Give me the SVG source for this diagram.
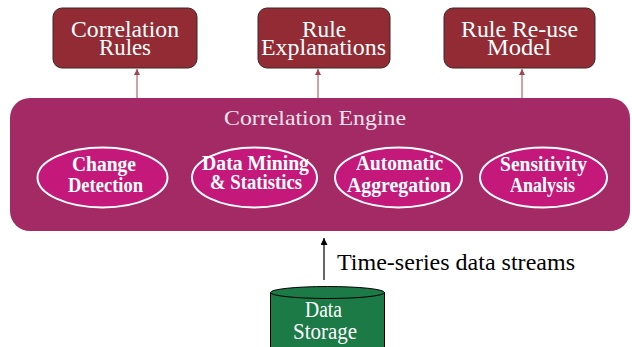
<svg xmlns="http://www.w3.org/2000/svg" width="632" height="347" viewBox="0 0 632 347">
  <defs>
    <marker id="tipRed" viewBox="0 0 10 10" refX="10" refY="5" markerWidth="6" markerHeight="7" orient="auto" markerUnits="userSpaceOnUse">
      <path d="M0,0 L10,5 L0,10 z" fill="#A4444E"/>
    </marker>
    <marker id="tipBlack" viewBox="0 0 10 10" refX="10" refY="5" markerWidth="7" markerHeight="7" orient="auto" markerUnits="userSpaceOnUse">
      <path d="M0,0 L10,5 L0,10 z" fill="#000"/>
    </marker>
  </defs>
  <style>
    text { font-family: "Liberation Serif", "Times New Roman", serif; }
    .out { fill: #922B33; stroke: #3a2a2a; stroke-width: 1; }
    .outTxt { font-size: 23px; fill: #ffffff; }
    .engine { fill: #A32A64; }
    .engTxt { font-size: 22px; fill: #f4e4ec; }
    .mod { fill: #C4197A; stroke: #ffffff; stroke-width: 2; }
    .modTxt { font-size: 20px; font-weight: bold; fill: #ffffff; }
    .link { stroke: #A4444E; stroke-width: 1; fill: none; }
    .feed { stroke: #000; stroke-width: 1.2; fill: none; }
    .store { fill: #1B7A46; stroke: #000; stroke-width: 1; }
    .storeTxt { font-size: 23px; fill: #ffffff; }
    .lbl { font-size: 23px; fill: #000; }
  </style>

  <rect width="632" height="347" fill="#ffffff"/>

  <!-- output boxes -->
  <g id="correlation-rules">
    <rect class="out" x="53" y="8" width="144" height="60" rx="9"/>
    <text class="outTxt" x="71" y="36.5" textLength="108" lengthAdjust="spacingAndGlyphs">Correlation</text>
    <text class="outTxt" x="99" y="55" textLength="52" lengthAdjust="spacingAndGlyphs">Rules</text>
  </g>
  <g id="rule-explanations">
    <rect class="out" x="258" y="8" width="132" height="60" rx="9"/>
    <text class="outTxt" x="302" y="36.5" textLength="44" lengthAdjust="spacingAndGlyphs">Rule</text>
    <text class="outTxt" x="261" y="55" textLength="125" lengthAdjust="spacingAndGlyphs">Explanations</text>
  </g>
  <g id="rule-reuse-model">
    <rect class="out" x="444" y="8" width="151" height="60" rx="9"/>
    <text class="outTxt" x="461" y="36.5" textLength="117" lengthAdjust="spacingAndGlyphs">Rule Re-use</text>
    <text class="outTxt" x="487" y="55" textLength="64" lengthAdjust="spacingAndGlyphs">Model</text>
  </g>

  <!-- correlation engine -->
  <g id="correlation-engine">
    <rect class="engine" x="10" y="98" width="620" height="133" rx="20"/>
    <text class="engTxt" x="224" y="125" textLength="182" lengthAdjust="spacingAndGlyphs">Correlation Engine</text>
  </g>
  <g id="change-detection">
    <ellipse class="mod" cx="102.5" cy="177.5" rx="65" ry="30"/>
    <text class="modTxt" x="72" y="170.5" textLength="64" lengthAdjust="spacingAndGlyphs">Change</text>
    <text class="modTxt" x="68" y="191.5" textLength="75" lengthAdjust="spacingAndGlyphs">Detection</text>
  </g>
  <g id="data-mining">
    <ellipse class="mod" cx="254.5" cy="177.5" rx="62.5" ry="30"/>
    <text class="modTxt" x="202" y="170" textLength="107" lengthAdjust="spacingAndGlyphs">Data Mining</text>
    <text class="modTxt" x="210" y="188.5" textLength="92" lengthAdjust="spacingAndGlyphs">&amp; Statistics</text>
  </g>
  <g id="automatic-aggregation">
    <ellipse class="mod" cx="398.5" cy="177.5" rx="63.5" ry="30"/>
    <text class="modTxt" x="356" y="170" textLength="87" lengthAdjust="spacingAndGlyphs">Automatic</text>
    <text class="modTxt" x="347" y="191.5" textLength="104" lengthAdjust="spacingAndGlyphs">Aggregation</text>
  </g>
  <g id="sensitivity-analysis">
    <ellipse class="mod" cx="543.5" cy="177.5" rx="63.5" ry="30"/>
    <text class="modTxt" x="500" y="170.5" textLength="87" lengthAdjust="spacingAndGlyphs">Sensitivity</text>
    <text class="modTxt" x="510" y="191.5" textLength="65" lengthAdjust="spacingAndGlyphs">Analysis</text>
  </g>

  <!-- data storage cylinder -->
  <g id="data-storage">
    <path class="store" d="M270.5,292.5 L270.5,352 L384.5,352 L384.5,292.5"/>
    <ellipse class="store" cx="327.5" cy="292.5" rx="57" ry="6"/>
    <text class="storeTxt" x="305" y="317" textLength="37" lengthAdjust="spacingAndGlyphs">Data</text>
    <text class="storeTxt" x="293" y="338.5" textLength="64" lengthAdjust="spacingAndGlyphs">Storage</text>
  </g>

  <!-- connectors -->
  <g id="connectors">
    <line class="link" x1="137" y1="98" x2="137" y2="69" marker-end="url(#tipRed)"/>
    <line class="link" x1="318" y1="98" x2="318" y2="69" marker-end="url(#tipRed)"/>
    <line class="link" x1="522" y1="98" x2="522" y2="69" marker-end="url(#tipRed)"/>
    <line class="feed" x1="324" y1="280" x2="324" y2="238" marker-end="url(#tipBlack)"/>
    <text class="lbl" x="337" y="270" textLength="238" lengthAdjust="spacingAndGlyphs">Time-series data streams</text>
  </g>
</svg>
